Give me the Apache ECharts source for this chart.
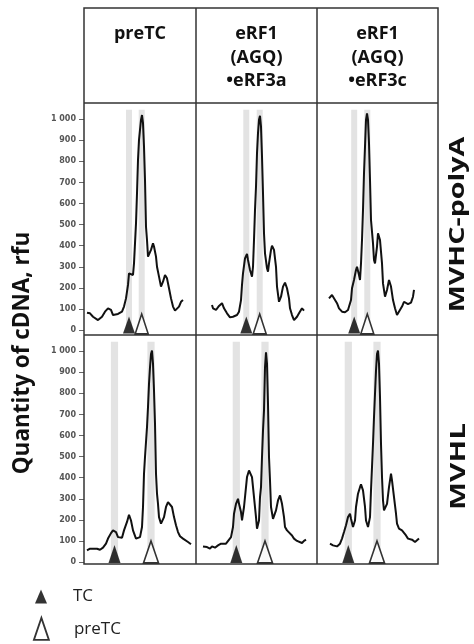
<!DOCTYPE html>
<html>
<head>
<meta charset="utf-8">
<title>Quantity of cDNA</title>
<script src="https://cdn.jsdelivr.net/npm/echarts@6/dist/echarts.min.js"></script>
<style>
  html, body { margin: 0; padding: 0; background: #fff; }
  #chart { width: 474px; height: 644px; }
</style>
</head>
<body>
<div id="chart"></div>
<script>
// column / row headers
const columnTitles = ['preTC', 'eRF1\n(AGQ)\n•eRF3a', 'eRF1\n(AGQ)\n•eRF3c'];
const rowTitles = ['MVHC-polyA', 'MVHL'];
const yTicks = [0, 100, 200, 300, 400, 500, 600, 700, 800, 900, 1000];

// toeprint traces [position, rfu]
const polyaPreTC = [[3,82],[6,79],[9,63],[14,47],[18,63],[21,87],[24,103],[27,95],[29,71],[31,66],[34,76],[38,87],[40,111],[42,150],[44,214],[45,269],[47,277],[49,261],[50,316],[51,411],[52,506],[53,649],[54,807],[55,902],[57,997],[58,1020],[59,981],[60,870],[61,712],[62,490],[63,427],[64,348],[65,340],[67,380],[69,411],[70,396],[72,348],[73,300],[75,253],[77,206],[79,229],[81,261],[83,245],[85,198],[87,150],[89,111],[91,92],[93,98],[95,111],[97,134],[99,142]];
const polyaERF3a = [[16,119],[17,103],[20,95],[23,114],[26,127],[28,103],[31,79],[34,60],[37,63],[41,71],[43,87],[45,142],[46,214],[47,269],[49,340],[51,361],[52,332],[54,285],[56,253],[57,300],[58,427],[59,570],[60,680],[61,839],[62,934],[63,997],[64,1016],[65,965],[66,823],[67,649],[68,459],[69,364],[71,293],[72,277],[73,316],[75,380],[76,400],[78,380],[80,300],[81,206],[83,134],[85,158],[87,206],[89,225],[91,198],[93,150],[94,103],[96,71],[98,47],[101,63],[103,79],[106,103],[108,92]];
const polyaERF3c = [[12,150],[15,166],[17,158],[20,127],[22,103],[25,87],[28,84],[31,95],[34,142],[35,198],[37,237],[39,285],[40,300],[42,261],[43,237],[44,316],[45,427],[46,570],[47,744],[48,870],[49,997],[50,1028],[51,997],[52,886],[53,712],[54,522],[56,411],[57,332],[58,316],[60,396],[61,459],[63,427],[65,316],[66,221],[68,158],[70,190],[72,237],[74,206],[76,142],[78,103],[80,71],[82,79],[85,111],[87,134],[89,127],[91,123],[94,130],[96,158],[97,190]];
const mvhlPreTC = [[3,55],[6,63],[9,63],[13,63],[16,58],[19,68],[22,87],[24,111],[27,137],[29,150],[32,142],[34,118],[36,111],[38,115],[40,150],[43,190],[45,224],[47,197],[49,150],[52,111],[54,103],[56,118],[58,166],[59,261],[60,419],[61,498],[63,640],[64,735],[65,845],[66,924],[67,987],[68,1003],[69,940],[70,814],[71,656],[72,419],[73,324],[74,276],[75,213],[77,182],[78,190],[80,213],[82,261],[84,284],[86,292],[88,261],[90,213],[92,174],[94,142],[96,122],[99,111],[101,103],[104,95],[107,84]];
const mvhlERF3a = [[7,74],[9,79],[11,71],[14,63],[16,74],[19,68],[22,79],[25,87],[27,90],[30,87],[32,95],[35,118],[37,166],[38,229],[40,276],[42,300],[43,276],[45,237],[46,197],[48,261],[50,355],[51,403],[53,434],[55,442],[56,403],[58,308],[60,213],[61,158],[63,197],[64,308],[65,355],[66,498],[67,624],[68,719],[69,924],[70,995],[71,940],[72,750],[73,498],[74,387],[75,261],[77,205],[78,213],[80,245],[82,292],[84,316],[86,276],[88,213],[89,166],[91,150],[93,142],[96,126],[98,111],[101,100],[103,92],[106,90],[108,100],[110,106]];
const mvhlERF3c = [[13,87],[16,79],[18,84],[20,74],[23,87],[25,111],[27,142],[29,174],[31,213],[33,229],[34,205],[36,166],[38,197],[39,261],[41,324],[43,355],[44,368],[46,340],[48,261],[49,197],[51,166],[53,213],[54,340],[55,450],[56,561],[57,687],[58,798],[59,908],[60,987],[61,1003],[62,940],[63,782],[64,561],[65,403],[66,292],[67,245],[68,237],[70,276],[72,355],[74,419],[75,387],[77,308],[79,229],[80,182],[82,158],[85,150],[87,142],[89,126],[91,111],[93,103],[95,106],[98,95],[100,103],[102,111]];

// TC (filled) and preTC (open) toeprint positions per panel
const tcPos = [45, 50.3, 37.2, 30.5, 40.3, 31.3];
const preTcPos = [57.7, 63.7, 50.3, 67, 69, 60];

const traces = [polyaPreTC, polyaERF3a, polyaERF3c, mvhlPreTC, mvhlERF3a, mvhlERF3c];

// layout
const colLeft = [84, 196, 317];
const colWidth = [112, 121, 121];
const rowTop = [103, 335];
const rowHeight = 227;
const yMax = 1077;
const bandHalf = [3, 3.6];
const tableTop = 8, tableBottom = 564, tableRight = 438;

const chart = echarts.init(document.getElementById('chart'));

const grids = [], xAxes = [], yAxes = [], series = [];
traces.forEach((trace, i) => {
  const row = Math.floor(i / 3), col = i % 3;
  grids.push({
    left: colLeft[col], top: rowTop[row], width: colWidth[col], height: rowHeight,
    outerBoundsMode: 'none'
  });
  xAxes.push({
    gridIndex: i, type: 'value', min: 0, max: colWidth[col], show: false
  });
  yAxes.push({
    gridIndex: i, type: 'value', min: 0, max: yMax,
    show: col === 0,
    splitLine: { show: false },
    axisLine: { show: false },
    axisTick: { show: true, length: 5, customValues: yTicks, lineStyle: { color: '#666' } },
    axisLabel: {
      margin: 8, fontSize: 8, fontWeight: 'bold', color: '#555',
      fontFamily: 'DejaVu Sans', customValues: yTicks,
      formatter: v => (v === 1000 ? '1 000' : String(v))
    }
  });
  const h = bandHalf[row];
  series.push({
    type: 'line', xAxisIndex: i, yAxisIndex: i, data: trace,
    symbol: 'none', lineStyle: { color: '#111', width: 2 },
    z: 3,
    markArea: {
      silent: true,
      itemStyle: { color: '#e3e3e3' },
      data: [
        [{ xAxis: tcPos[i] - h, yAxis: 0 }, { xAxis: tcPos[i] + h, yAxis: 1045 }],
        [{ xAxis: preTcPos[i] - h, yAxis: 0 }, { xAxis: preTcPos[i] + h, yAxis: 1045 }]
      ]
    }
  });
  series.push({
    name: 'TC', type: 'scatter', xAxisIndex: i, yAxisIndex: i,
    data: [[tcPos[i], 0]], clip: false, z: 4,
    symbol: 'triangle', symbolSize: row === 0 ? [12, 17] : [12, 18],
    symbolOffset: [0, row === 0 ? -5 : -8],
    itemStyle: { color: '#000' }
  });
  series.push({
    name: 'preTC', type: 'scatter', xAxisIndex: i, yAxisIndex: i,
    data: [[preTcPos[i], 0]], clip: false, z: 4,
    symbol: 'triangle', symbolSize: row === 0 ? [13, 20] : [15, 22],
    symbolOffset: [0, row === 0 ? -6 : -10],
    itemStyle: { color: '#fff', borderColor: '#000', borderWidth: 1.8 }
  });
});

const lineStyle = { stroke: '#333', lineWidth: 1.5 };
const graphic = [
  { type: 'rect', z: 10, shape: { x: colLeft[0], y: tableTop, width: tableRight - colLeft[0], height: tableBottom - tableTop },
    style: { fill: null, stroke: '#333', lineWidth: 1.5 } },
  { type: 'line', z: 10, shape: { x1: colLeft[1], y1: tableTop, x2: colLeft[1], y2: tableBottom }, style: lineStyle },
  { type: 'line', z: 10, shape: { x1: colLeft[2], y1: tableTop, x2: colLeft[2], y2: tableBottom }, style: lineStyle },
  { type: 'line', z: 10, shape: { x1: colLeft[0], y1: rowTop[0], x2: tableRight, y2: rowTop[0] }, style: lineStyle },
  { type: 'line', z: 10, shape: { x1: colLeft[0], y1: rowTop[1], x2: tableRight, y2: rowTop[1] }, style: lineStyle }
];
columnTitles.forEach((t, c) => {
  graphic.push({
    type: 'text', z: 10, x: colLeft[c] + colWidth[c] / 2, y: 22.5,
    style: {
      text: t, fill: '#111', font: 'bold 18px "Open Sans"',
      align: 'center', verticalAlign: 'top', lineHeight: 23.5
    }
  });
});
graphic.push({
  type: 'text', z: 10, x: 23, y: 353, rotation: Math.PI / 2,
  style: { text: 'Quantity of cDNA, rfu', fill: '#111', font: 'bold 22.5px "Open Sans"', align: 'center', verticalAlign: 'middle' }
});
graphic.push({
  type: 'text', z: 10, x: 458, y: 224.5, rotation: Math.PI / 2, scaleX: 1.3,
  style: { text: rowTitles[0], fill: '#111', font: 'bold 22px "Open Sans"', align: 'center', verticalAlign: 'middle' }
});
graphic.push({
  type: 'text', z: 10, x: 459, y: 466.5, rotation: Math.PI / 2, scaleX: 1.35,
  style: { text: rowTitles[1], fill: '#111', font: 'bold 22px "Open Sans"', align: 'center', verticalAlign: 'middle' }
});

chart.setOption({
  animation: false,
  backgroundColor: '#fff',
  grid: grids,
  xAxis: xAxes,
  yAxis: yAxes,
  legend: [
    {
      data: ['TC'], left: 35, top: 588, orient: 'vertical', padding: 0,
      icon: 'triangle', itemWidth: 12, itemHeight: 14,
      itemStyle: { color: '#000', borderWidth: 0 },
      textStyle: { fontSize: 17, color: '#222', fontFamily: 'Open Sans', padding: [0, 0, 0, 21] }
    },
    {
      data: ['preTC'], left: 33, top: 617, orient: 'vertical', padding: 0,
      icon: 'triangle', itemWidth: 15, itemHeight: 22,
      itemStyle: { color: '#fff', borderColor: '#000', borderWidth: 1.8 },
      textStyle: { fontSize: 17, color: '#222', fontFamily: 'Open Sans', padding: [0, 0, 0, 20] }
    }
  ],
  graphic: graphic,
  series: series
});
</script>
</body>
</html>
